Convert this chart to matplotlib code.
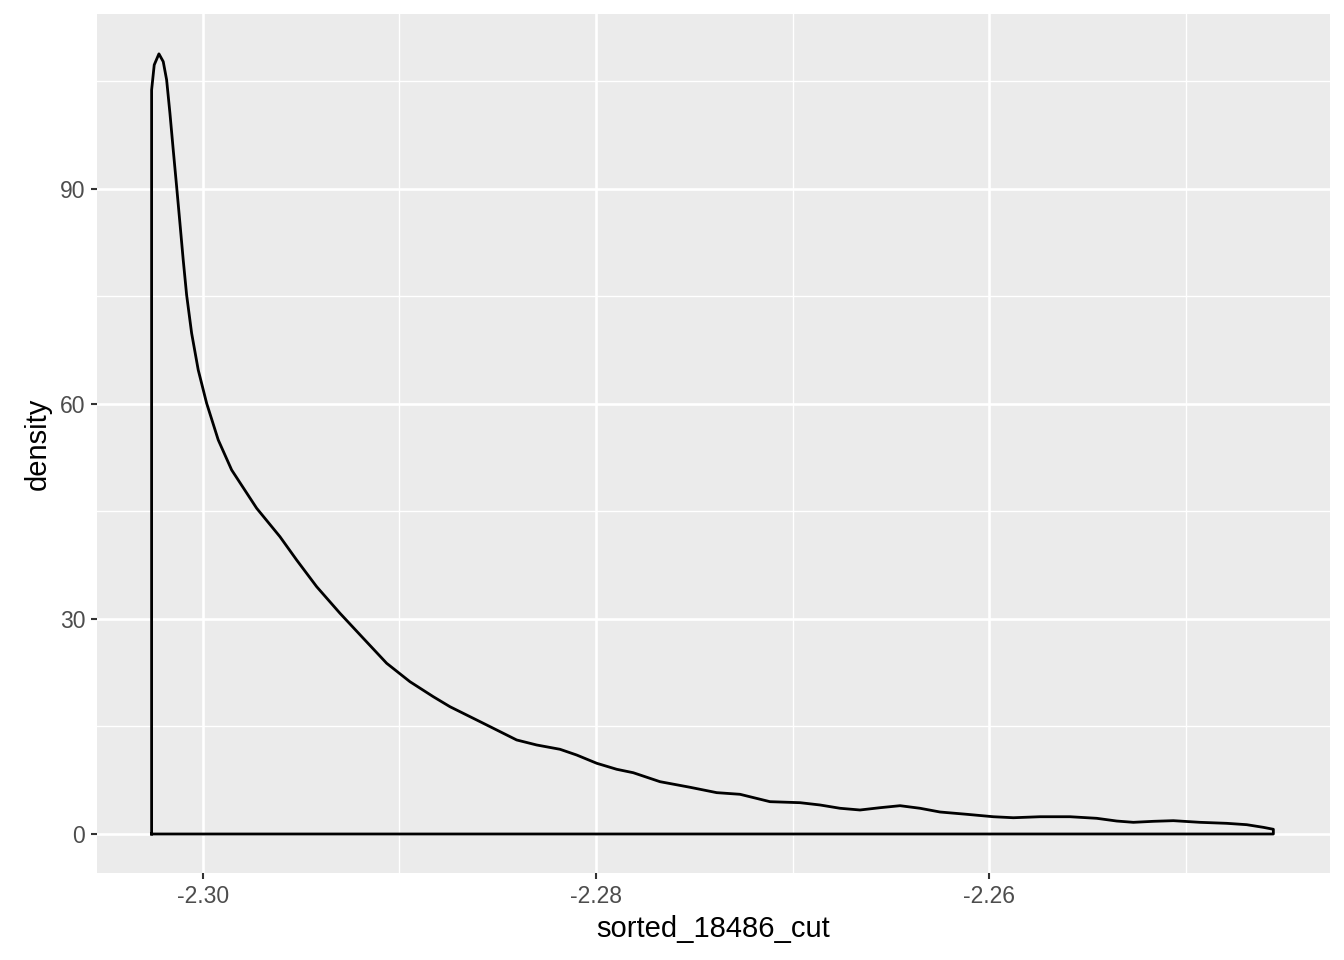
import matplotlib
matplotlib.use("Agg")
import matplotlib.pyplot as plt

plt.rcParams['font.family'] = ['Liberation Sans', 'DejaVu Sans']

# density curve
x_vals = [-2.302611, -2.302478, -2.302239, -2.302020, -2.301847, -2.301679,
          -2.301511, -2.301338, -2.301170, -2.301003, -2.300830, -2.300575,
          -2.300239, -2.299812, -2.299221, -2.298539, -2.297267, -2.296081,
          -2.295232, -2.294214, -2.293028, -2.291842, -2.290651, -2.289466,
          -2.288280, -2.287430, -2.285735, -2.284036, -2.283018, -2.281832,
          -2.280982, -2.279964, -2.278947, -2.278102, -2.276743, -2.275216,
          -2.273858, -2.272672, -2.271145, -2.269618, -2.268601, -2.267583,
          -2.266565, -2.265547, -2.264529, -2.263511, -2.262494, -2.261135,
          -2.259781, -2.258763, -2.257405, -2.255878, -2.254519, -2.253501,
          -2.252656, -2.251639, -2.250621, -2.249262, -2.247904, -2.246886,
          -2.246041, -2.245532]
y_vals = [103.81, 107.30, 108.84, 107.76, 105.21, 100.56,
          95.44, 90.32, 85.22, 80.09, 75.21, 69.87,
          64.74, 60.10, 54.98, 50.79, 45.45, 41.48,
          38.23, 34.51, 30.80, 27.31, 23.82, 21.25,
          19.16, 17.76, 15.45, 13.12, 12.42, 11.82,
          11.02, 9.87, 9.03, 8.55, 7.30, 6.52,
          5.77, 5.54, 4.51, 4.37, 4.05, 3.59,
          3.35, 3.67, 3.95, 3.59, 3.07, 2.75,
          2.41, 2.27, 2.41, 2.41, 2.19, 1.81,
          1.63, 1.77, 1.86, 1.63, 1.49, 1.30,
          0.93, 0.66]

x_major = [-2.30, -2.28, -2.26]
x_major_labels = ["-2.30", "-2.28", "-2.26"]
x_minor = [-2.29, -2.27, -2.25]
y_major = [0, 30, 60, 90]
y_major_labels = ["0", "30", "60", "90"]
y_minor = [15, 45, 75, 105]

fig = plt.figure(figsize=(13.44, 9.6), dpi=100)
ax = fig.add_axes([97/1344, 1-873/960, (1330-97)/1344, (873-14)/960])
ax.set_facecolor('#EBEBEB')
for s in ax.spines.values():
    s.set_visible(False)

# closed outline like geom_density
px = [x_vals[0]] + x_vals + [x_vals[-1], x_vals[0]]
py = [0] + y_vals + [0, 0]
ax.plot(px, py, color='black', lw=2.0, solid_joinstyle='round', zorder=3)

ax.set_xlim(-2.30539, -2.24265)
ax.set_ylim(-5.44, 114.4)

ax.set_xticks(x_major)
ax.set_xticklabels(x_major_labels)
ax.set_xticks(x_minor, minor=True)
ax.set_yticks(y_major)
ax.set_yticklabels(y_major_labels)
ax.set_yticks(y_minor, minor=True)

ax.grid(True, which='major', color='white', lw=1.9, zorder=0)
ax.grid(True, which='minor', color='white', lw=1.0, zorder=0)
ax.set_axisbelow(True)

ax.tick_params(axis='both', which='major', length=4.5, width=1.5, color='#333333',
               labelsize=16.5, labelcolor='#4D4D4D', pad=4)
ax.tick_params(axis='both', which='minor', length=0)

ax.set_xlabel('sorted_18486_cut', fontsize=21, color='black', labelpad=5)
ax.set_ylabel('density', fontsize=21, color='black', labelpad=6)

fig.savefig('out.png', dpi=100, facecolor='white')
